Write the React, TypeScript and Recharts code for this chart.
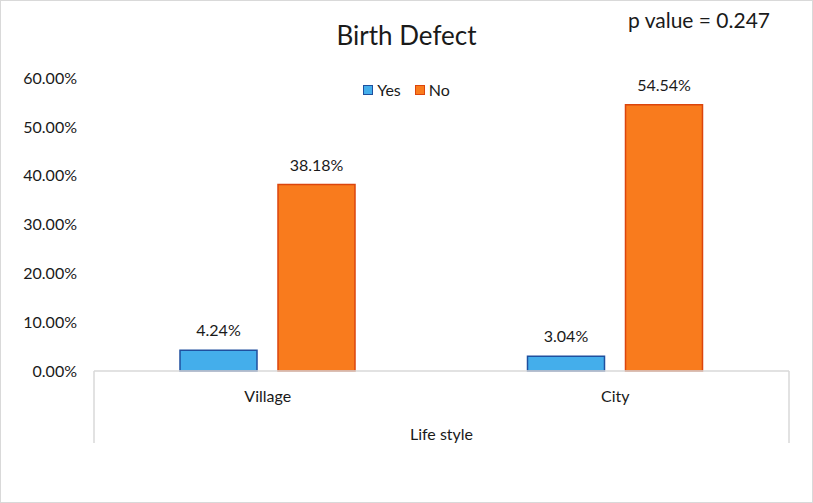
import React from "react";
import { BarChart, Bar, XAxis, YAxis, Legend, LabelList } from "recharts";

const categories = ["Village", "City"];
const yesValues = [4.24, 3.04];
const noValues = [38.18, 54.54];
const yTicks = [0, 10, 20, 30, 40, 50, 60];
const seriesNames = { yes: "Yes", no: "No" };
const seriesOrder = ["yes", "no"];
const chartTitle = "Birth Defect";
const pValueText = "p value = 0.247";
const xAxisTitle = "Life style";

const data = categories.map((c, i) => ({ name: c, yes: yesValues[i], no: noValues[i] }));

const FONT = "Lato, 'Liberation Sans', Arial, sans-serif";
const TEXT = "#1a1a1a";
const AXIS = "#d9d9d9";

const fmt = (v: number) => `${Number(v).toFixed(2)}%`;

const CategoryTick = (props: any) => {
  const { x, y, payload } = props;
  return (
    <text x={x} y={y + 16} textAnchor="middle" dominantBaseline="central" fontSize={16} fontFamily={FONT} fill={TEXT}>
      {payload.value}
    </text>
  );
};

const AxisFrame = (props: any) => {
  const vb = props.viewBox || {};
  const { x, y, width, height } = vb;
  if (x == null) return null;
  return (
    <g>
      <line x1={x} y1={y} x2={x} y2={y + height} stroke={AXIS} strokeWidth={1.5} />
      <line x1={x + width} y1={y} x2={x + width} y2={y + height} stroke={AXIS} strokeWidth={1.5} />
      <text x={x + width / 2} y={y + 62} textAnchor="middle" dominantBaseline="central" fontSize={16} fontFamily={FONT} fill={TEXT}>
        {xAxisTitle}
      </text>
    </g>
  );
};

const LegendContent = (props: any) => {
  const { payload = [] } = props;
  const sorted = [...payload].sort(
    (a: any, b: any) => seriesOrder.indexOf(a.dataKey) - seriesOrder.indexOf(b.dataKey)
  );
  return (
    <div style={{ display: "flex", justifyContent: "center", alignItems: "center", gap: 14, fontFamily: FONT, fontSize: 16, color: TEXT }}>
      {sorted.map((p: any) => (
        <div key={p.value} style={{ display: "flex", alignItems: "center", gap: 4 }}>
          <span
            style={{
              display: "inline-block",
              width: 8,
              height: 8,
              background: p.payload.fill,
              border: `1px solid ${p.payload.stroke}`,
            }}
          />
          <span>{p.value}</span>
        </div>
      ))}
    </div>
  );
};

export default function App() {
  return (
    <div style={{ position: "absolute", left: 0, top: 0, width: 813, height: 503, background: "#fff" }}>
      <BarChart
        width={813}
        height={503}
        data={data}
        margin={{ top: 78, right: 24, bottom: 60, left: 0 }}
        barGap={21}
        barSize={77}
      >
        <XAxis
          dataKey="name"
          height={72}
          tickLine={false}
          axisLine={{ stroke: AXIS, strokeWidth: 1.5 }}
          tick={<CategoryTick />}
          label={<AxisFrame />}
        />
        <YAxis
          width={94}
          domain={[0, 60]}
          ticks={yTicks}
          axisLine={false}
          tickLine={false}
          tickMargin={11}
          tickFormatter={fmt}
          tick={{ fontSize: 16, fontFamily: FONT, fill: TEXT }}
        />
        <Legend
          layout="horizontal"
          verticalAlign="middle"
          align="center"
          itemSorter={null as any}
          content={<LegendContent />}
          wrapperStyle={{ top: 80, left: 0, width: 813 }}
        />
        <Bar dataKey="yes" name={seriesNames.yes} fill="#44aeeb" stroke="#1f4f9e" strokeWidth={1.5} isAnimationActive={false}>
          <LabelList dataKey="yes" position="top" offset={14} formatter={fmt as any} style={{ fontSize: 16, fontFamily: FONT, fill: TEXT }} />
        </Bar>
        <Bar dataKey="no" name={seriesNames.no} fill="#f97b1d" stroke="#dc450c" strokeWidth={1.5} isAnimationActive={false}>
          <LabelList dataKey="no" position="top" offset={14} formatter={fmt as any} style={{ fontSize: 16, fontFamily: FONT, fill: TEXT }} />
        </Bar>
      </BarChart>
      <div
        style={{
          position: "absolute",
          left: 0,
          top: 20,
          width: 813,
          textAlign: "center",
          fontFamily: FONT,
          fontSize: 26,
          color: TEXT,
          lineHeight: "30px",
          pointerEvents: "none",
        }}
      >
        {chartTitle}
      </div>
      <div
        style={{
          position: "absolute",
          left: 628,
          top: 7,
          fontFamily: FONT,
          fontSize: 21,
          color: TEXT,
          lineHeight: "25px",
          whiteSpace: "nowrap",
          pointerEvents: "none",
        }}
      >
        {pValueText}
      </div>
      <div
        style={{
          position: "absolute",
          left: 0,
          top: 0,
          width: 813,
          height: 503,
          boxSizing: "border-box",
          border: "1.5px solid #d9d9d9",
          pointerEvents: "none",
        }}
      />
    </div>
  );
}
